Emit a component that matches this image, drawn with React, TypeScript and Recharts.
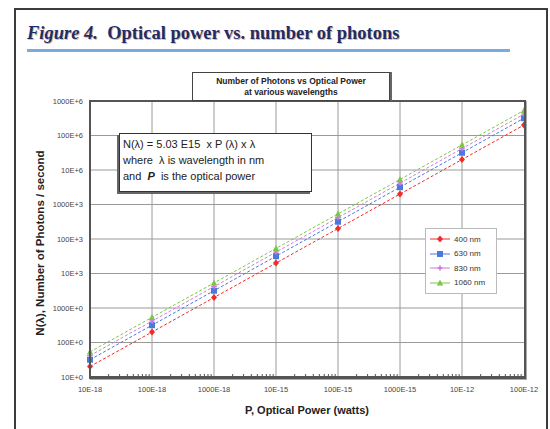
import { LineChart, Line, XAxis, YAxis, CartesianGrid, ReferenceLine, Legend } from 'recharts';

const powerWatts = [1e-17, 1e-16, 1e-15, 1e-14, 1e-13, 1e-12, 1e-11, 1e-10];
const powerTickLabels = ['10E-18', '100E-18', '1000E-18', '10E-15', '100E-15', '1000E-15', '10E-12', '100E-12'];
const photonTicks = [10, 100, 1e3, 1e4, 1e5, 1e6, 1e7, 1e8, 1e9];
const photonTickLabels = ['10E+0', '100E+0', '1000E+0', '10E+3', '100E+3', '1000E+3', '10E+6', '100E+6', '1000E+6'];

const photons400 = [20.1, 201, 2.01e3, 2.01e4, 2.01e5, 2.01e6, 2.01e7, 2.01e8];
const photons630 = [31.7, 317, 3.17e3, 3.17e4, 3.17e5, 3.17e6, 3.17e7, 3.17e8];
const photons830 = [41.7, 417, 4.17e3, 4.17e4, 4.17e5, 4.17e6, 4.17e7, 4.17e8];
const photons1060 = [53.3, 533, 5.33e3, 5.33e4, 5.33e5, 5.33e6, 5.33e7, 5.33e8];

const series = [
  { key: 'n400', name: '400 nm', color: '#f22a2a', shape: 'diamond' },
  { key: 'n630', name: '630 nm', color: '#4a78dc', shape: 'square' },
  { key: 'n830', name: '830 nm', color: '#d27ad6', shape: 'star' },
  { key: 'n1060', name: '1060 nm', color: '#78c846', shape: 'triangle' },
];

const data = powerWatts.map((x, i) => ({
  x,
  n400: photons400[i],
  n630: photons630[i],
  n830: photons830[i],
  n1060: photons1060[i],
}));

// minor log ticks between decades (2..9 x decade)
const minorTicks = powerWatts.slice(0, -1).flatMap(d => [2, 3, 4, 5, 6, 7, 8, 9].map(m => m * d));
const allXTicks = [...powerWatts, ...minorTicks].sort((a, b) => a - b);

const SANS = '"Liberation Sans", Arial, sans-serif';

function markerPath(shape: string, cx: number, cy: number) {
  switch (shape) {
    case 'square':
      return `M${cx - 3},${cy - 3}h6v6h-6z`;
    case 'diamond':
      return `M${cx},${cy - 3.5}L${cx + 3},${cy}L${cx},${cy + 3.5}L${cx - 3},${cy}z`;
    case 'star':
      return `M${cx},${cy - 3.5}L${cx + 1},${cy - 1}L${cx + 3.5},${cy}L${cx + 1},${cy + 1}L${cx},${cy + 3.5}L${cx - 1},${cy + 1}L${cx - 3.5},${cy}L${cx - 1},${cy - 1}z`;
    default:
      return `M${cx},${cy - 3.5}L${cx + 3.2},${cy + 2.5}L${cx - 3.2},${cy + 2.5}z`;
  }
}

function makeDot(shape: string, color: string) {
  // eslint-disable-next-line @typescript-eslint/no-explicit-any
  return (p: any) => {
    if (p.cx == null || p.cy == null) return <g key={p.index} />;
    return <path key={p.index} d={markerPath(shape, p.cx, p.cy)} fill={color} stroke="none" />;
  };
}

// eslint-disable-next-line @typescript-eslint/no-explicit-any
function PowerTick(props: any) {
  const { x, y, payload } = props;
  const idx = powerWatts.findIndex(v => Math.abs(v - payload.value) / v < 1e-6);
  if (idx === -1) {
    return <line x1={x} x2={x} y1={y - 3} y2={y} stroke="#555" strokeWidth={1} />;
  }
  return (
    <text x={x} y={y + 15} textAnchor="middle" fontSize={7.5} fill="#444" fontFamily={SANS}>
      {powerTickLabels[idx]}
    </text>
  );
}

function LegendBox() {
  return (
    <div style={{ border: '1px solid #bbb', background: '#fff', padding: '3px 4px', width: 62 }}>
      {series.map(s => (
        <div key={s.key} style={{ display: 'flex', alignItems: 'center', height: 14.5 }}>
          <svg width={20} height={8}>
            <line x1={0} x2={20} y1={4} y2={4} stroke={s.color} strokeWidth={1} />
            <path d={markerPath(s.shape, 10, 4)} fill={s.color} />
          </svg>
          <span style={{ fontFamily: SANS, fontSize: 8, color: '#333', marginLeft: 4 }}>{s.name}</span>
        </div>
      ))}
    </div>
  );
}

export default function App() {
  return (
    <div style={{ position: 'absolute', left: 0, top: 0, width: 550, height: 429, overflow: 'hidden', background: '#fff' }}>
      <div style={{ position: 'absolute', left: 14, top: 8, width: 534, height: 460, border: '2px solid #3c3c3c', boxSizing: 'border-box' }} />

      <div
        style={{
          position: 'absolute', left: 27, top: 23, whiteSpace: 'nowrap',
          fontFamily: '"Liberation Serif", "Times New Roman", serif', fontSize: 18.5, fontWeight: 'bold',
          color: '#1f2c6a', textShadow: '1px 1px 0 rgba(200,130,50,0.55)',
        }}
      >
        <span style={{ fontStyle: 'italic' }}>Figure 4.</span>&nbsp; Optical power vs. number of photons
      </div>
      <div style={{ position: 'absolute', left: 27, top: 49, width: 483, height: 3, background: '#78acdc' }} />

      <div style={{ position: 'absolute', left: 0, top: 0 }}>
        <LineChart width={550} height={429} data={data} margin={{ top: 101, right: 26, bottom: 22, left: 0 }}>
          <CartesianGrid vertical={false} stroke="#9a9a9a" />
          {powerWatts.slice(1, -1).map(v => (
            <ReferenceLine key={v} x={v} stroke="#9a9a9a" />
          ))}
          <XAxis
            dataKey="x"
            type="number"
            scale="log"
            domain={[1e-17, 1e-10]}
            ticks={allXTicks}
            interval={0}
            tick={<PowerTick />}
            tickLine={false}
            tickSize={0}
            tickMargin={0}
            height={30}
            axisLine={{ stroke: '#555', strokeWidth: 2 }}
          />
          <YAxis
            type="number"
            scale="log"
            domain={[10, 1e9]}
            ticks={photonTicks}
            interval={0}
            width={90}
            tickLine={false}
            tickSize={0}
            tickMargin={7}
            tick={{ fontSize: 7.5, fill: '#444', fontFamily: SANS }}
            tickFormatter={(v: number) => photonTickLabels[photonTicks.findIndex(t => Math.abs(t - v) / t < 1e-6)] ?? ''}
            axisLine={{ stroke: '#555', strokeWidth: 2 }}
          />
          <Legend
            layout="vertical"
            align="center"
            verticalAlign="middle"
            content={<LegendBox />}
            wrapperStyle={{ left: 425, top: 228, width: 72 }}
          />
          {series.map(s => (
            <Line
              key={s.key}
              dataKey={s.key}
              name={s.name}
              stroke={s.color}
              strokeWidth={1}
              strokeDasharray="3 2"
              dot={makeDot(s.shape, s.color)}
              activeDot={false}
              isAnimationActive={false}
            />
          ))}
        </LineChart>
      </div>

      {/* plot frame */}
      <div style={{ position: 'absolute', left: 89, top: 100, width: 437, height: 279, border: '2px solid #555', boxSizing: 'border-box', boxShadow: '1px 1px 0 #aaa', pointerEvents: 'none' }} />

      {/* chart title box */}
      <div
        style={{
          position: 'absolute', left: 192, top: 72, width: 198, height: 29, boxSizing: 'border-box',
          border: '1px solid #444', boxShadow: '2px 0 0 #666', background: '#fff',
          fontFamily: SANS, fontSize: 8.5, fontWeight: 'bold', color: '#222', textAlign: 'center', lineHeight: '11px', paddingTop: 3,
        }}
      >
        Number of Photons vs Optical Power
        <br />
        at various wavelengths
      </div>

      {/* annotation box */}
      <div
        style={{
          position: 'absolute', left: 119, top: 133, width: 193, height: 59, boxSizing: 'border-box',
          border: '1px solid #333', boxShadow: '-2px 2px 0 #666', background: '#fff',
          fontFamily: SANS, fontSize: 11, color: '#222', lineHeight: '16px', padding: '2px 0 0 3px', whiteSpace: 'nowrap',
        }}
      >
        <div>N(λ) = 5.03 E15 &nbsp;x P (λ) x λ</div>
        <div>where &nbsp;λ is wavelength in nm</div>
        <div>and &nbsp;<b><i>P</i></b> &nbsp;is the optical power</div>
      </div>

      {/* axis titles */}
      <div
        style={{
          position: 'absolute', left: 40, top: 243, transform: 'translate(-50%, -50%) rotate(-90deg)', whiteSpace: 'nowrap',
          fontFamily: SANS, fontSize: 11.5, fontWeight: 'bold', color: '#222',
        }}
      >
        N(λ), Number of Photons / second
      </div>
      <div
        style={{
          position: 'absolute', left: 307, top: 410, transform: 'translate(-50%, -50%)', whiteSpace: 'nowrap',
          fontFamily: SANS, fontSize: 11, fontWeight: 'bold', color: '#222',
        }}
      >
        P, Optical Power (watts)
      </div>
    </div>
  );
}
